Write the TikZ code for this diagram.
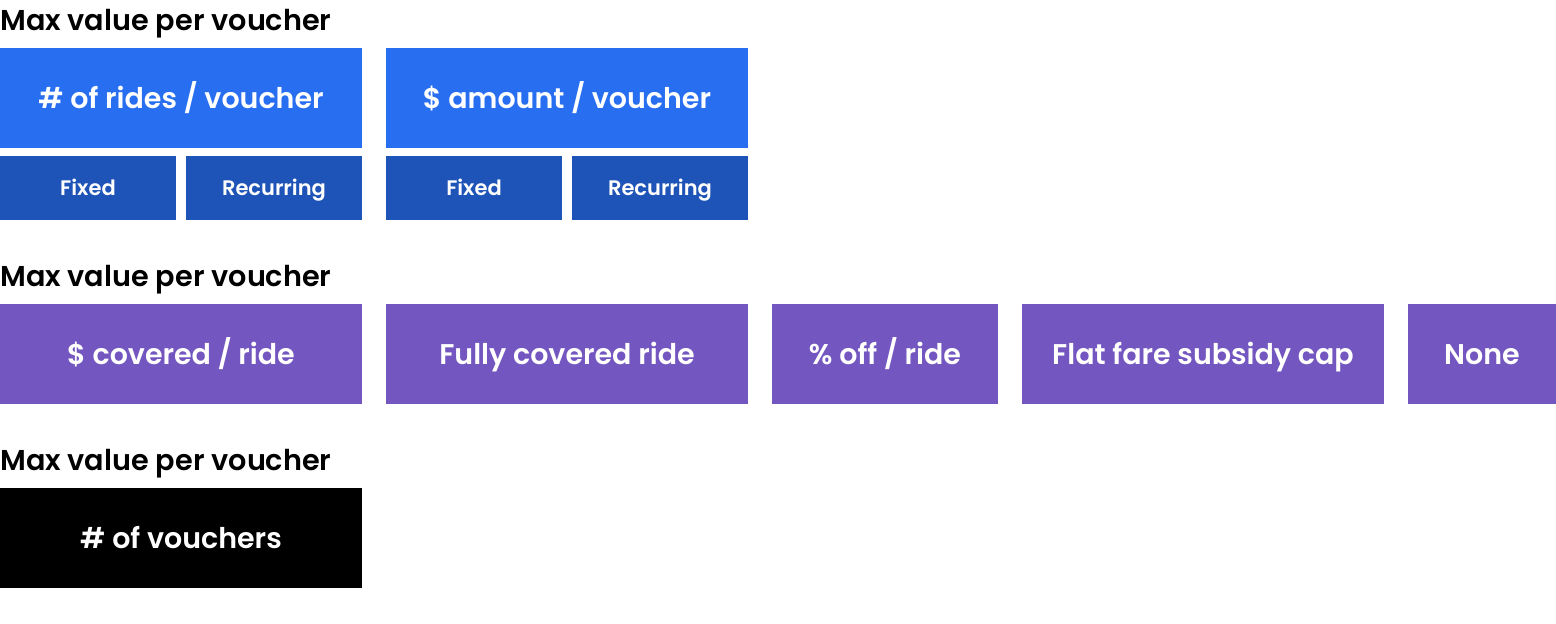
\documentclass[tikz,border=0pt]{standalone}
\usepackage{fontspec}
\setmainfont{Poppins}[UprightFont=* Medium, BoldFont=* SemiBold]
\definecolor{ubblue}{HTML}{276EF1}
\definecolor{ubdark}{HTML}{1E54B7}
\definecolor{ubpurple}{HTML}{7356BF}
\begin{document}
\begin{tikzpicture}[x=1pt,y=-1pt,
  title/.style={anchor=base west,inner sep=0pt,font=\fontsize{28.7}{32}\selectfont\bfseries},
  bigbox/.style={draw=none,inner sep=0pt,text=white,text height=20pt,text depth=0pt,font=\fontsize{28.5}{32}\selectfont\bfseries},
  smallbox/.style={draw=none,inner sep=0pt,text=white,text height=14.5pt,text depth=0pt,font=\fontsize{21}{24}\selectfont\bfseries}]
\useasboundingbox (0,0) rectangle (1556,624);
\node[title] (t1) at (0,30) {Max value per voucher};
\fill[ubblue] (0,48) rectangle (362,148) node[bigbox,midway] (a1) {\# of rides / voucher};
\fill[ubblue] (386,48) rectangle (748,148) node[bigbox,midway] (a2) {\$ amount / voucher};
\fill[ubdark] (0,156) rectangle (176,220) node[smallbox,midway] (b1) {Fixed};
\fill[ubdark] (186,156) rectangle (362,220) node[smallbox,midway] (b2) {Recurring};
\fill[ubdark] (386,156) rectangle (562,220) node[smallbox,midway] (b3) {Fixed};
\fill[ubdark] (572,156) rectangle (748,220) node[smallbox,midway] (b4) {Recurring};
\node[title] (t2) at (0,286) {Max value per voucher};
\fill[ubpurple] (0,304) rectangle (362,404) node[bigbox,midway] (c1) {\$ covered / ride};
\fill[ubpurple] (386,304) rectangle (748,404) node[bigbox,midway] (c2) {Fully covered ride};
\fill[ubpurple] (772,304) rectangle (998,404) node[bigbox,midway] (c3) {\% off / ride};
\fill[ubpurple] (1022,304) rectangle (1384,404) node[bigbox,midway] (c4) {Flat fare subsidy cap};
\fill[ubpurple] (1408,304) rectangle (1556,404) node[bigbox,midway] (c5) {None};
\node[title] (t3) at (0,470) {Max value per voucher};
\fill[black] (0,488) rectangle (362,588) node[bigbox,midway] (d1) {\# of vouchers};
\end{tikzpicture}
\end{document}
